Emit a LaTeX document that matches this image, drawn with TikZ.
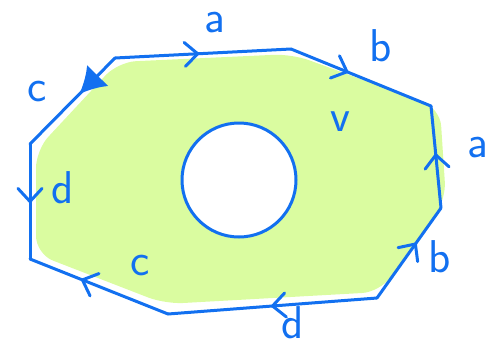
\documentclass[tikz,border=0pt]{standalone}
\usepackage{fontspec}
\usetikzlibrary{arrows.meta, decorations.markings}

\definecolor{penblue}{RGB}{18,112,240}
\definecolor{leafgreen}{RGB}{218,252,160}

\tikzset{
  edge/.style={penblue, line width=3pt, line cap=round, line join=round},
  tip at/.style={postaction={decorate, decoration={markings,
      mark=at position #1 with {\draw[penblue, line width=3pt, line cap=round, line join=round]
        (-13pt,12pt) -- (0pt,0pt) -- (-13pt,-12pt);}}}},
  fat tip at/.style={postaction={decorate, decoration={markings,
      mark=at position #1 with {\arrow{Latex[length=26pt, width=30pt]}}}}},
  lbl/.style={text=penblue, font=\sffamily\fontsize{46}{48}\selectfont, inner sep=0pt},
}

\begin{document}
\begin{tikzpicture}[x=1pt, y=-1pt]
  \useasboundingbox (0,0) rectangle (498,349);

  % Corners of the octagon
  \coordinate (ul) at (115,58);
  \coordinate (ur) at (291,49);
  \coordinate (ru) at (431,106);
  \coordinate (rl) at (441,208);
  \coordinate (lr) at (377,298);
  \coordinate (ll) at (168,314);
  \coordinate (bl) at (30,259);
  \coordinate (tl) at (30,144);

  % Shaded surface
  \fill[leafgreen, rounded corners=18pt] (118,62) -- (292,54) -- (440,108) -- (446,200)
    -- (380,292) -- (165,304) -- (36,254) -- (36,150) -- cycle;

  % Hole in the middle
  \node[circle, draw=penblue, fill=white, line width=3pt, minimum size=114pt,
    inner sep=0pt] (hole) at (239,180) {};

  % Sides with their arrows
  \draw[edge, fat tip at=0.42] (ul) -- (tl);
  \draw[edge, tip at=0.47] (ul) -- (ur);
  \draw[edge, tip at=0.4] (ur) -- (ru);
  \draw[edge, tip at=0.52] (rl) -- (ru);
  \draw[edge, tip at=0.6] (lr) -- (rl);
  \draw[edge, tip at=0.5] (lr) -- (ll);
  \draw[edge, tip at=0.62] (ll) -- (bl);
  \draw[edge, tip at=0.5] (tl) -- (bl);

  % Side labels
  \node[lbl] (a1) at (215,23) {a};
  \node[lbl] (b1) at (381,46) {b};
  \node[lbl] (a2) at (478,148) {a};
  \node[lbl] (b2) at (440,257) {b};
  \node[lbl] (d1) at (293,323) {d};
  \node[lbl] (c1) at (140,266) {c};
  \node[lbl] (d2) at (63,188) {d};
  \node[lbl] (c2) at (37,92) {c};
  \node[lbl] (v) at (340,122) {v};
\end{tikzpicture}
\end{document}
